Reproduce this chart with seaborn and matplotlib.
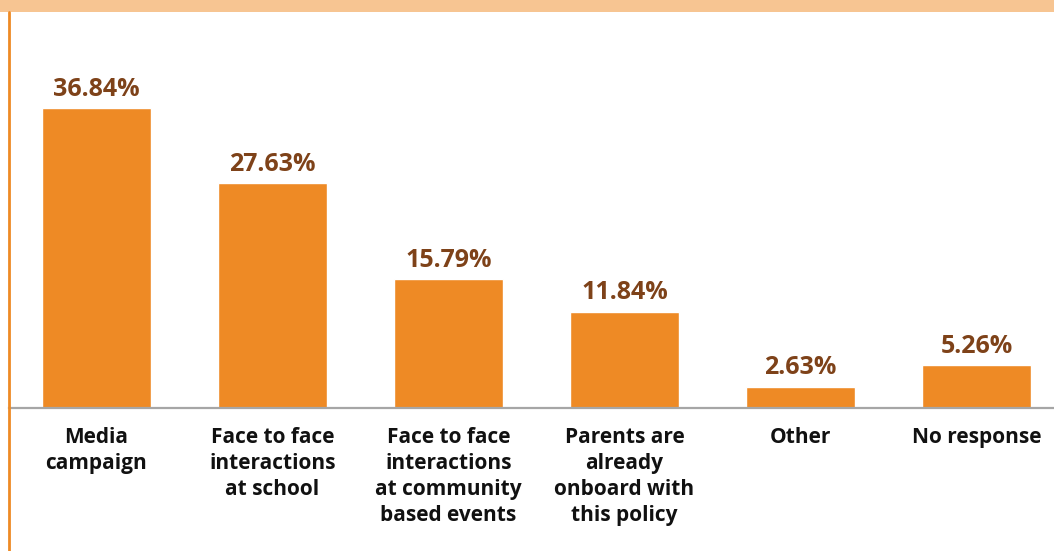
import matplotlib
matplotlib.use("Agg")
import matplotlib.pyplot as plt
import seaborn as sns
from matplotlib.patches import Rectangle
from matplotlib.lines import Line2D

categories = [
    "Media\ncampaign",
    "Face to face\ninteractions\nat school",
    "Face to face\ninteractions\nat community\nbased events",
    "Parents are\nalready\nonboard with\nthis policy",
    "Other",
    "No response",
]
values = [36.84, 27.63, 15.79, 11.84, 2.63, 5.26]

BAR = "#EE8A25"
BAND = "#F7C592"
VALUE_TXT = "#7E4219"

sns.set_theme(style="white")
plt.rcParams["font.family"] = ["Open Sans", "DejaVu Sans"]

W, H = 1054, 551
fig = plt.figure(figsize=(W / 100, H / 100), dpi=100)

# axes: baseline at y=408px, top at 12px, category pitch 176px starting at 96.5px
left_px, right_px = 8.5, 1064.5
ax = fig.add_axes([left_px / W, (H - 408) / H, (right_px - left_px) / W, (408 - 12) / H])

sns.barplot(x=categories, y=values, color=BAR, saturation=1, width=0.62, ax=ax)
ax.set_xlim(-0.5, 5.5)
ax.set_ylim(0, 396 / 8.143)

for c in ax.containers:
    ax.bar_label(c, labels=[f"{v:.2f}%" for v in values], padding=4.5,
                 fontsize=18, fontweight="bold", color=VALUE_TXT)

ax.set_yticks([])
ax.set_ylabel("")
ax.set_xlabel("")
for s in ["top", "right", "left"]:
    ax.spines[s].set_visible(False)
ax.spines["bottom"].set_color("#A6A6A6")
ax.spines["bottom"].set_linewidth(1.6)
ax.tick_params(axis="x", length=0, pad=14)
ax.set_xticks(range(len(categories)))
ax.set_xticklabels(categories, fontsize=15, fontweight="bold", color="#111111",
                   linespacing=1.3, va="top")

# decorative header band and left border
fig.patches.append(Rectangle((0, (H - 12) / H), 1, 12 / H, transform=fig.transFigure,
                             facecolor=BAND, edgecolor="none", zorder=0))
fig.lines.append(Line2D([9 / W, 9 / W], [0, (H - 12) / H], transform=fig.transFigure,
                        color=BAR, linewidth=2))

fig.savefig("out.png", dpi=100)
